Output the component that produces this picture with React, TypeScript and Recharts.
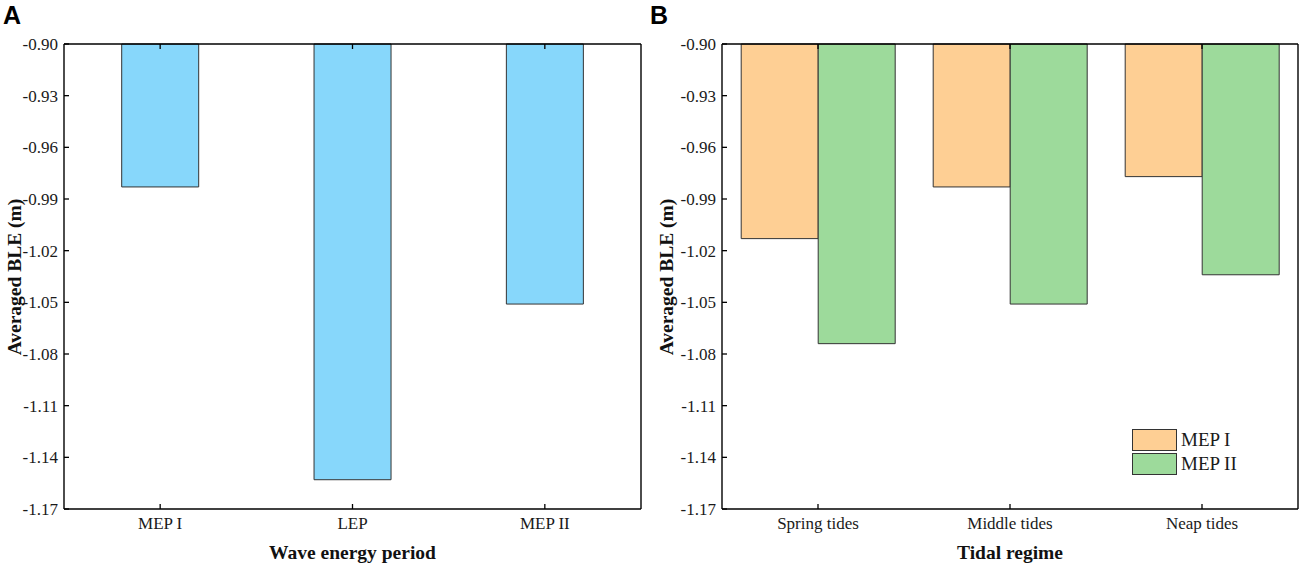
import React from "react";
import { BarChart, Bar, XAxis, YAxis, Legend, Label } from "recharts";

const periods = ["MEP I", "LEP", "MEP II"];
const periodBle = [-0.983, -1.153, -1.051];

const regimes = ["Spring tides", "Middle tides", "Neap tides"];
const mep1Ble = [-1.013, -0.983, -0.977];
const mep2Ble = [-1.074, -1.051, -1.034];

const yTicks = [-1.17, -1.14, -1.11, -1.08, -1.05, -1.02, -0.99, -0.96, -0.93, -0.9];
const yDomain = [-1.17, -0.9];

const dataA = periods.map((p, i) => ({ name: p, ble: periodBle[i] }));
const dataB = regimes.map((r, i) => ({ name: r, mep1: mep1Ble[i], mep2: mep2Ble[i] }));

const SERIF = '"Liberation Serif", "Times New Roman", serif';
const TICK_GAP = 6;
const TICK_LEN = 5;
const AXIS = { stroke: "#000", strokeWidth: 1.4 };

const LeftTick = (props: any) => {
  const { x, y, payload } = props;
  return (
    <g>
      <line x1={x + TICK_GAP} x2={x + TICK_GAP + TICK_LEN} y1={y} y2={y} stroke="#000" strokeWidth={1.3} />
      <text x={x} y={y + 6} textAnchor="end" fontFamily={SERIF} fontSize={17} fill="#1a1a1a">
        {Number(payload.value).toFixed(2)}
      </text>
    </g>
  );
};

const BottomTick = (props: any) => {
  const { x, y, payload } = props;
  return (
    <g>
      <line x1={x} x2={x} y1={y - TICK_GAP} y2={y - TICK_GAP - TICK_LEN} stroke="#000" strokeWidth={1.3} />
      <text x={x} y={y + 14} textAnchor="middle" fontFamily={SERIF} fontSize={17} fill="#1a1a1a">
        {payload.value}
      </text>
    </g>
  );
};

const TopTick = (props: any) => {
  const { x, y } = props;
  return <line x1={x} x2={x} y1={y} y2={y + TICK_LEN} stroke="#000" strokeWidth={1.3} />;
};

const RightTick = (props: any) => {
  const { x, y } = props;
  return <line x1={x} x2={x - TICK_LEN} y1={y} y2={y} stroke="#000" strokeWidth={1.3} />;
};

const yTitle = (cx: number) => () =>
  (
    <text
      transform={`translate(${cx},277) rotate(-90)`}
      textAnchor="middle"
      dominantBaseline="central"
      fontFamily={SERIF}
      fontWeight="bold"
      fontSize={19.5}
      fill="#111"
    >
      Averaged BLE (m)
    </text>
  );

const xTitleStyle = { fontFamily: SERIF, fontWeight: "bold", fontSize: 19.5, fill: "#111" };

const legendItems = [
  { label: "MEP I", color: "#FECF94" },
  { label: "MEP II", color: "#9DDA9B" },
];

const LegendBox = () => (
  <div>
    {legendItems.map((it) => (
      <div key={it.label} style={{ display: "flex", alignItems: "center", height: 22, marginBottom: 2 }}>
        <div
          style={{
            width: 43,
            height: 20,
            background: it.color,
            border: "1.5px solid #333",
          }}
        />
        <span style={{ marginLeft: 4, fontFamily: SERIF, fontSize: 19, color: "#1a1a1a" }}>{it.label}</span>
      </div>
    ))}
  </div>
);

const panelLetter: React.CSSProperties = {
  position: "absolute",
  top: 0,
  fontFamily: '"Liberation Sans", Arial, sans-serif',
  fontWeight: "bold",
  fontSize: 25,
  lineHeight: "30px",
  color: "#000",
};

export default function App() {
  return (
    <div style={{ position: "relative", width: 1299, height: 565, background: "#fff" }}>
      <style>{"body{margin:0}"}</style>
      <div style={{ ...panelLetter, left: 3 }}>A</div>
      <div style={{ ...panelLetter, left: 650 }}>B</div>

      <div style={{ position: "absolute", left: 0, top: 0 }}>
        <BarChart width={650} height={565} data={dataA} margin={{ top: 43, right: 8, bottom: 0, left: 0 }} barCategoryGap="30%">
          <XAxis
            dataKey="name"
            height={56}
            tickSize={0}
            tickMargin={TICK_GAP}
            tickLine={false}
            axisLine={AXIS}
            tick={BottomTick}
          >
            <Label value="Wave energy period" position="insideBottom" offset={6} style={xTitleStyle} />
          </XAxis>
          <XAxis xAxisId="top" dataKey="name" orientation="top" height={1} tickSize={0} tickMargin={0} tickLine={false} axisLine={AXIS} tick={TopTick} />
          <YAxis
            domain={yDomain}
            ticks={yTicks}
            width={64}
            tickSize={0}
            tickMargin={TICK_GAP}
            tickLine={false}
            axisLine={AXIS}
            tick={LeftTick}
            interval={0}
          >
            <Label content={yTitle(14)} />
          </YAxis>
          <YAxis yAxisId="right" orientation="right" domain={yDomain} ticks={yTicks} width={1} tickSize={0} tickMargin={0} tickLine={false} axisLine={AXIS} tick={RightTick} interval={0} />
          <Bar dataKey="ble" fill="#87D7FB" stroke="#333" strokeWidth={1} isAnimationActive={false} />
        </BarChart>
      </div>

      <div style={{ position: "absolute", left: 650, top: 0 }}>
        <BarChart width={649} height={565} data={dataB} margin={{ top: 43, right: 0, bottom: 0, left: 0 }} barCategoryGap="10%" barGap={0}>
          <XAxis
            dataKey="name"
            height={56}
            tickSize={0}
            tickMargin={TICK_GAP}
            tickLine={false}
            axisLine={AXIS}
            tick={BottomTick}
          >
            <Label value="Tidal regime" position="insideBottom" offset={6} style={xTitleStyle} />
          </XAxis>
          <XAxis xAxisId="top" dataKey="name" orientation="top" height={1} tickSize={0} tickMargin={0} tickLine={false} axisLine={AXIS} tick={TopTick} />
          <YAxis
            domain={yDomain}
            ticks={yTicks}
            width={72}
            tickSize={0}
            tickMargin={TICK_GAP}
            tickLine={false}
            axisLine={AXIS}
            tick={LeftTick}
            interval={0}
          >
            <Label content={yTitle(16)} />
          </YAxis>
          <YAxis yAxisId="right" orientation="right" domain={yDomain} ticks={yTicks} width={1} tickSize={0} tickMargin={0} tickLine={false} axisLine={AXIS} tick={RightTick} interval={0} />
          <Legend
            layout="vertical"
            align="center"
            verticalAlign="middle"
            content={LegendBox}
            wrapperStyle={{ position: "absolute", left: 482, top: 429, width: "auto", height: "auto" }}
          />
          <Bar dataKey="mep1" name="MEP I" fill="#FECF94" stroke="#333" strokeWidth={1} isAnimationActive={false} />
          <Bar dataKey="mep2" name="MEP II" fill="#9DDA9B" stroke="#333" strokeWidth={1} isAnimationActive={false} />
        </BarChart>
      </div>
    </div>
  );
}
